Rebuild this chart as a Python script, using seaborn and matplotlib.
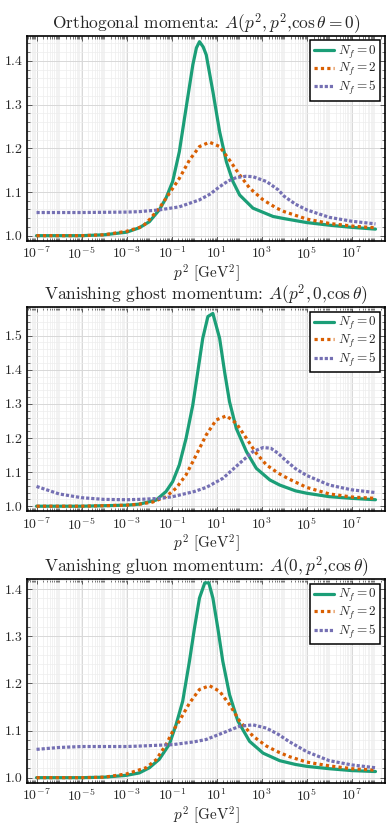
import numpy as np
import pandas as pd
import matplotlib
matplotlib.use("Agg")
import matplotlib.pyplot as plt
import matplotlib.ticker as mticker
import seaborn as sns

# exponent of p^2 (log10) and A
# --- orthogonal momenta
orth_nf0_logp = [-7, -5, -4, -3, -2.44, -1.99, -1.55, -1.25, -0.955, -0.66, -0.36, -0.06, 0.1, 0.236,
                 0.4, 0.535, 0.83, 1.13, 1.43, 1.72, 2.02, 2.61, 3.5, 4, 5, 6, 7, 8.05]
orth_nf0_A = [1.0, 1.0, 1.002, 1.008, 1.018, 1.032, 1.059, 1.086, 1.124, 1.192, 1.292, 1.391, 1.43, 1.444,
              1.432, 1.414, 1.33, 1.238, 1.169, 1.124, 1.093, 1.063, 1.044, 1.039, 1.03, 1.024, 1.019, 1.015]
orth_nf2_logp = [-7, -5, -4, -3, -2.29, -2.0, -1.55, -1.1, -0.66, -0.21, 0.236, 0.68, 1.13, 1.57, 2.02,
                 2.46, 3.06, 3.66, 4, 5, 6, 7, 8.05]
orth_nf2_A = [1.0, 1.0, 1.002, 1.01, 1.021, 1.036, 1.063, 1.097, 1.131, 1.173, 1.204, 1.214, 1.204, 1.173, 1.139,
              1.109, 1.082, 1.063, 1.055, 1.038, 1.028, 1.022, 1.018]
orth_nf5_logp = [-7, -5, -3, -2.44, -1.55, -0.66, 0.236, 0.7, 1.13, 1.5, 1.87, 2.3, 2.61, 3.21, 3.73, 4,
                 4.5, 5, 6, 7, 8.05]
orth_nf5_A = [1.053, 1.053, 1.054, 1.055, 1.059, 1.066, 1.082, 1.095, 1.112, 1.125, 1.133, 1.136, 1.135, 1.124,
              1.105, 1.09, 1.072, 1.059, 1.042, 1.033, 1.027]

# --- vanishing ghost momentum
ghost_nf0_logp = [-7, -5, -3, -2.44, -1.69, -1.25, -0.955, -0.66, -0.36, -0.06, 0.16, 0.38, 0.61, 0.83,
                  1.13, 1.35, 1.57, 1.87, 2.32, 2.76, 3.36, 3.8, 4.5, 5, 6, 7, 8.05]
ghost_nf0_A = [1.0, 1.0, 1.003, 1.006, 1.018, 1.043, 1.072, 1.121, 1.199, 1.297, 1.394, 1.492, 1.556, 1.565,
               1.492, 1.394, 1.306, 1.228, 1.16, 1.111, 1.077, 1.062, 1.045, 1.038, 1.028, 1.023, 1.019]
ghost_nf2_logp = [-7, -5, -3, -2.44, -1.85, -1.25, -0.8, -0.36, 0.09, 0.535, 0.98, 1.43, 1.87, 2.32, 2.76,
                  3.21, 3.73, 4.2, 5, 6, 7, 8.05]
ghost_nf2_A = [1.0, 1.0, 1.003, 1.006, 1.012, 1.028, 1.053, 1.092, 1.15, 1.209, 1.253, 1.265, 1.243, 1.199, 1.155,
               1.121, 1.097, 1.08, 1.055, 1.036, 1.027, 1.023]
ghost_nf5_logp = [-7, -6, -5, -4, -3, -2.44, -1.5, -0.955, 0, 0.535, 1.28, 2.02, 2.61, 3.06, 3.4, 3.73, 4,
                  4.5, 5, 6, 7, 8.05]
ghost_nf5_A = [1.058, 1.036, 1.025, 1.02, 1.019, 1.02, 1.023, 1.028, 1.043, 1.055, 1.082, 1.126, 1.16, 1.172,
               1.17, 1.155, 1.138, 1.11, 1.09, 1.062, 1.048, 1.04]

# --- vanishing gluon momentum
gluon_nf0_logp = [-7, -5, -4, -3, -2.44, -1.99, -1.55, -1.1, -0.8, -0.51, -0.21, 0.013, 0.236, 0.47, 0.65,
                  0.83, 1.05, 1.27, 1.57, 1.94, 2.46, 3.06, 3.8, 4.5, 5, 6, 7, 8.05]
gluon_nf0_A = [1.0, 1.0, 1.001, 1.005, 1.01, 1.021, 1.039, 1.071, 1.113, 1.162, 1.247, 1.317, 1.381, 1.413, 1.413,
               1.381, 1.317, 1.247, 1.176, 1.12, 1.077, 1.052, 1.036, 1.028, 1.024, 1.019, 1.015, 1.013]
gluon_nf2_logp = [-7, -5, -4, -3, -2.14, -1.69, -1.25, -0.955, -0.66, -0.21, 0.236, 0.68, 1.13, 1.57, 2.02,
                  2.61, 3.21, 3.66, 4.2, 5, 6, 7, 8.05]
gluon_nf2_A = [1.0, 1.0, 1.001, 1.008, 1.021, 1.038, 1.07, 1.098, 1.12, 1.158, 1.187, 1.195, 1.183, 1.155, 1.12,
               1.088, 1.067, 1.056, 1.045, 1.033, 1.025, 1.019, 1.016]
gluon_nf5_logp = [-7, -6, -5, -3, -2.44, -0.955, 0, 0.535, 1.28, 2.02, 2.61, 3.21, 3.73, 4.2, 5, 6, 7, 8.05]
gluon_nf5_A = [1.06, 1.064, 1.066, 1.066, 1.067, 1.07, 1.076, 1.081, 1.095, 1.109, 1.112, 1.105, 1.092, 1.077,
               1.055, 1.036, 1.027, 1.021]

labels = [r"$N_f = 0$", r"$N_f = 2$", r"$N_f = 5$"]
titles = [
    r"Orthogonal momenta: $A(p^2, p^2{,}\cos\theta = 0)$",
    r"Vanishing ghost momentum: $A(p^2, 0{,}\cos\theta)$",
    r"Vanishing gluon momentum: $A(0, p^2{,}\cos\theta)$",
]
panels = [
    [(orth_nf0_logp, orth_nf0_A), (orth_nf2_logp, orth_nf2_A), (orth_nf5_logp, orth_nf5_A)],
    [(ghost_nf0_logp, ghost_nf0_A), (ghost_nf2_logp, ghost_nf2_A), (ghost_nf5_logp, ghost_nf5_A)],
    [(gluon_nf0_logp, gluon_nf0_A), (gluon_nf2_logp, gluon_nf2_A), (gluon_nf5_logp, gluon_nf5_A)],
]
ylims = [(0.9886, 1.458), (0.985, 1.583), (0.9894, 1.4205)]
# axes boxes [left, bottom, width, height] in figure fraction
boxes = [
    [0.0698, 0.709, 0.9147, 0.248],
    [0.0698, 0.3817, 0.9147, 0.2467],
    [0.0698, 0.0536, 0.9147, 0.2459],
]

sns.set_theme(style="ticks")
plt.rcParams.update({
    "font.family": "serif",
    "font.serif": ["cmr10", "DejaVu Serif"],
    "mathtext.fontset": "cm",
    "axes.formatter.use_mathtext": True,
    "axes.unicode_minus": False,
    "xtick.direction": "in",
    "ytick.direction": "in",
    "xtick.top": True,
    "ytick.right": True,
})

palette = {labels[0]: "#1b9e77", labels[1]: "#d95f02", labels[2]: "#7570b3"}
dashes = {labels[0]: "", labels[1]: (1, 1), labels[2]: (1, 0.6)}

fig = plt.figure(figsize=(3.91, 8.27), dpi=100)

for box, title, series, ylim in zip(boxes, titles, panels, ylims):
    ax = fig.add_axes(box)
    frames = []
    for lab, (lp, a) in zip(labels, series):
        frames.append(pd.DataFrame({"p2": 10.0 ** np.array(lp), "A": a, "Nf": lab}))
    df = pd.concat(frames, ignore_index=True)

    sns.lineplot(data=df, x="p2", y="A", hue="Nf", style="Nf",
                 palette=palette, dashes=dashes, linewidth=2.3,
                 estimator=None, sort=True, ax=ax)
    ax.set_xscale("log")
    ax.set_xlim(10 ** -7.41, 10 ** 8.47)
    ax.set_ylim(*ylim)

    ax.xaxis.set_major_locator(mticker.FixedLocator(10.0 ** np.arange(-7, 9, 2)))
    ax.xaxis.set_minor_locator(mticker.LogLocator(base=10, subs=np.arange(1, 10), numticks=100))
    ax.xaxis.set_minor_formatter(mticker.NullFormatter())
    ax.yaxis.set_major_locator(mticker.MultipleLocator(0.1))
    ax.yaxis.set_minor_locator(mticker.AutoMinorLocator(5))
    ax.yaxis.set_major_formatter(mticker.FormatStrFormatter("%.1f"))

    ax.grid(which="major", color="#d8d8d8", linewidth=0.7)
    ax.grid(which="minor", color="#ededed", linewidth=0.5)
    ax.set_axisbelow(True)
    ax.tick_params(which="both", labelsize=10, color="#444444")
    ax.tick_params(which="major", length=3.5, width=0.6)
    ax.tick_params(which="minor", length=2, width=0.5)
    for sp in ax.spines.values():
        sp.set_color("black")
        sp.set_linewidth(1.2)

    ax.set_xlabel(r"$p^2$ [GeV$^2$]", fontsize=11, labelpad=0)
    ax.set_ylabel("")
    ax.set_title(title, fontsize=12.5, pad=5)

    sns.move_legend(ax, "upper right", title=None, frameon=True, fancybox=False,
                    edgecolor="black", framealpha=1, fontsize=9.5,
                    labelspacing=0.05, handlelength=1.5, handletextpad=0.35,
                    borderpad=0.25, borderaxespad=0.35)
    ax.get_legend().get_frame().set_linewidth(1.1)

fig.savefig("out.png", dpi=100)
